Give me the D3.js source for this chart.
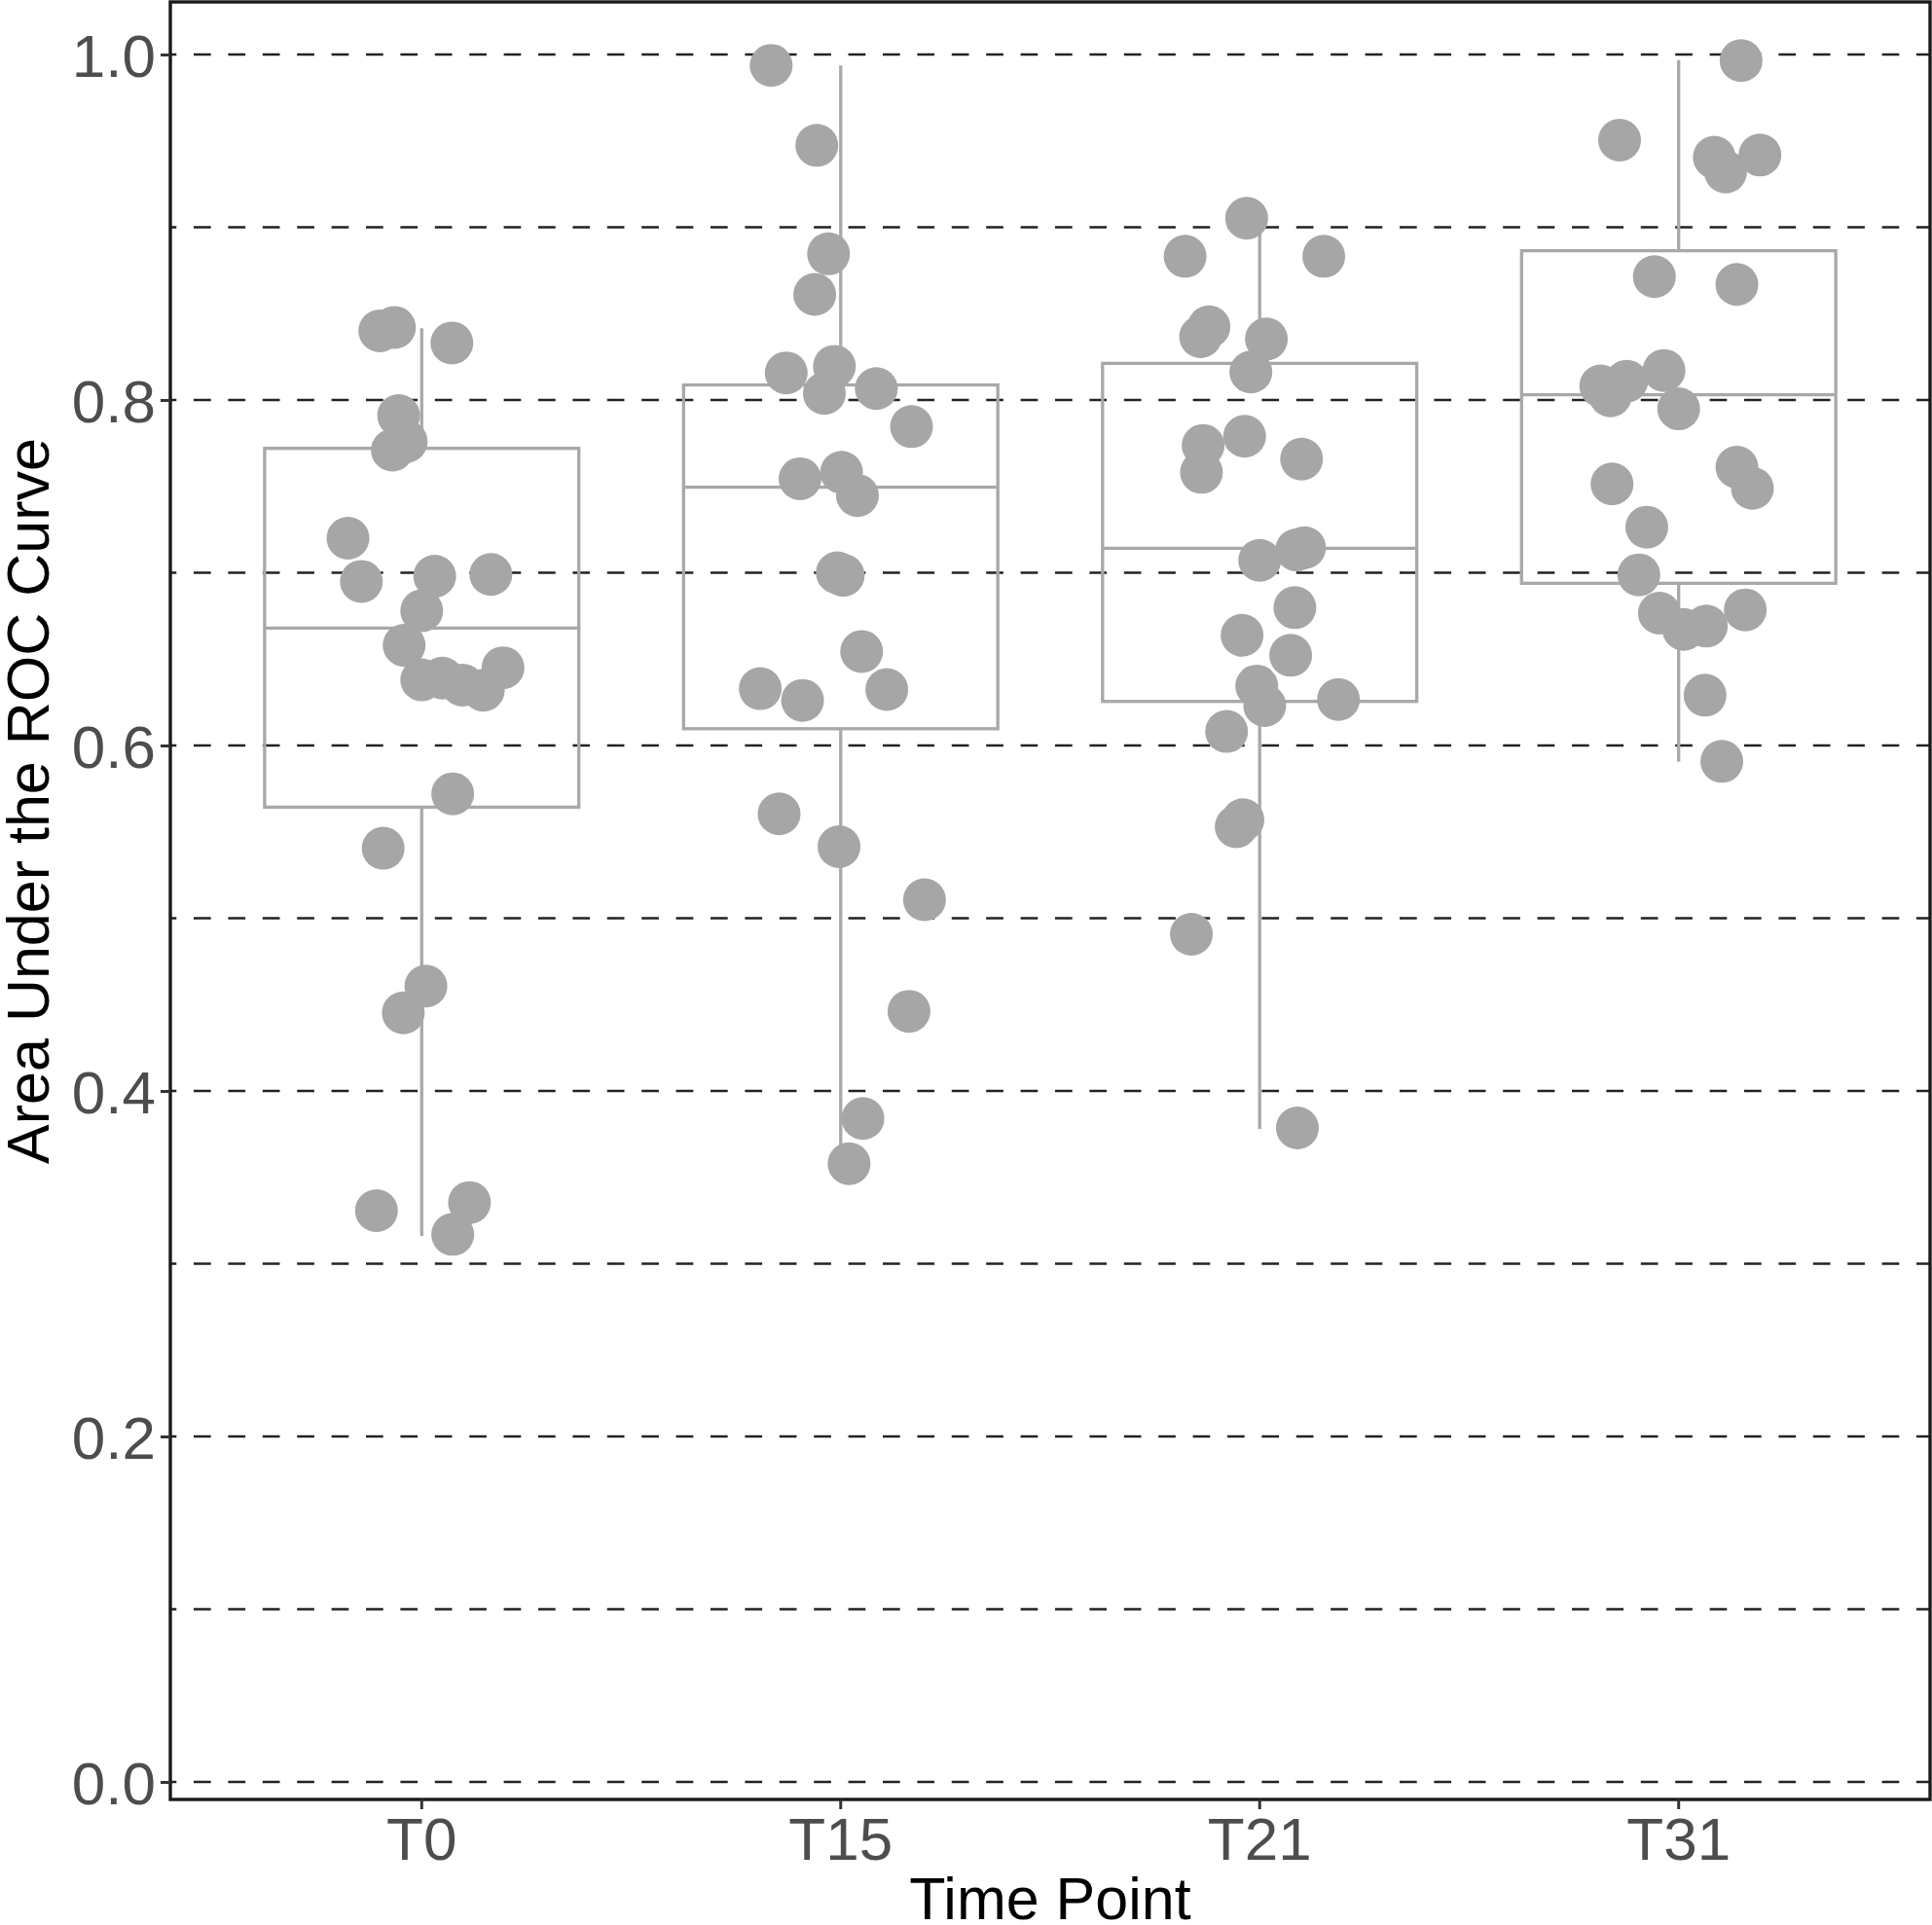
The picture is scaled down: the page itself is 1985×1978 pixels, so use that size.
<!DOCTYPE html>
<html lang="en">
<head>
    <meta charset="UTF-8">
    <title>AUC by time point</title>
    <script src="https://cdn.jsdelivr.net/npm/d3@7"></script>
    <style>
        body { margin: 0; background: #fff; }
        text { font-family: "Liberation Sans", Arial, Helvetica, sans-serif; }
    </style>
</head>
<body>
<svg id="chart" width="1985" height="1978"></svg>
<script>
    // categories
    let timePoints = ['T0', 'T15', 'T21', 'T31'];

    // box statistics: lower whisker, q1, median, q3, upper whisker
    let whiskerLow = [0.316, 0.362, 0.378, 0.5906];
    let q1 = [0.5643, 0.6097, 0.6255, 0.6939];
    let median = [0.668, 0.7495, 0.7142, 0.803];
    let q3 = [0.772, 0.8087, 0.8212, 0.8864];
    let whiskerHigh = [0.8415, 0.9937, 0.905, 0.9968];

    // AUC values per time point, with the jitter (fraction of a category step)
    let aucT0 = [0.840, 0.842, 0.833, 0.791, 0.771, 0.776, 0.720, 0.695, 0.698, 0.699, 0.678, 0.658,
        0.638, 0.639, 0.635, 0.632, 0.645, 0.572, 0.5405, 0.4607, 0.4452, 0.3307, 0.3354, 0.317];
    let jitT0 = [-0.100, -0.065, 0.072, -0.055, -0.070, -0.037, -0.176, -0.144, 0.031, 0.165, 0.000, -0.042,
        0.000, 0.049, 0.097, 0.147, 0.194, 0.074, -0.092, 0.010, -0.044, -0.108, 0.114, 0.074];

    let aucT15 = [0.9937, 0.9474, 0.8846, 0.8611, 0.8157, 0.8195, 0.8038, 0.8066, 0.7846, 0.7544, 0.7581, 0.7447,
        0.7000, 0.6985, 0.6544, 0.6329, 0.6261, 0.6324, 0.5604, 0.5414, 0.5107, 0.4461, 0.3841, 0.3579];
    let jitT15 = [-0.166, -0.057, -0.029, -0.062, -0.130, -0.015, -0.039, 0.085, 0.169, -0.097, 0.002, 0.040,
        -0.008, 0.006, 0.050, -0.192, -0.091, 0.110, -0.147, -0.004, 0.200, 0.163, 0.053, 0.020];

    let aucT21 = [0.9052, 0.8832, 0.8832, 0.8424, 0.8366, 0.8353, 0.8162, 0.7790, 0.7737, 0.7581, 0.7658, 0.7145,
        0.7132, 0.7072, 0.6798, 0.6638, 0.6522, 0.6344, 0.6231, 0.6266, 0.6081, 0.5530, 0.5570, 0.4907, 0.3786];
    let jitT21 = [-0.031, -0.178, 0.153, -0.121, -0.141, 0.016, -0.021, -0.036, -0.135, -0.139, 0.100, 0.107,
        0.088, 0.000, 0.084, -0.042, 0.074, -0.007, 0.012, 0.188, -0.079, -0.056, -0.040, -0.163, 0.090];

    let aucT31 = [0.9965, 0.9504, 0.9405, 0.9320, 0.9418, 0.8714, 0.8669, 0.8081, 0.8109, 0.8024, 0.8171, 0.7949,
        0.7611, 0.7489, 0.7514, 0.7264, 0.6988, 0.6766, 0.6672, 0.6691, 0.6785, 0.6291, 0.5908];
    let jitT31 = [0.149, -0.141, 0.085, 0.112, 0.194, -0.058, 0.139, -0.186, -0.124, -0.163, -0.035, 0.000,
        0.139, 0.176, -0.159, -0.076, -0.095, -0.046, 0.012, 0.066, 0.159, 0.063, 0.103];

    let yTicks = [0, 0.2, 0.4, 0.6, 0.8, 1.0];
    let yGrid = [0, 0.1, 0.2, 0.3, 0.4, 0.5, 0.6, 0.7, 0.8, 0.9, 1.0];

    let aucs = [aucT0, aucT15, aucT21, aucT31],
        jits = [jitT0, jitT15, jitT21, jitT31];

    // panel box in pixels
    let panelL = 175, panelR = 1983, panelT = 2, panelB = 1849;
    let grey = '#a8a8a8';

    let svg = d3.select('#chart');
    svg.append('rect').attr('width', 1985).attr('height', 1978).attr('fill', '#fff');

    let x = d3.scaleBand().domain(timePoints).range([panelL, panelR]).paddingInner(0).paddingOuter(0.1);
    let y = d3.scaleLinear().domain([0, 1]).range([1831, 56]);
    let step = x.step();
    let cx = d => x(d) + x.bandwidth() / 2;

    // dashed grid lines
    svg.append('g').selectAll('line').data(yGrid).enter()
        .append('line')
        .attr('x1', panelL).attr('x2', panelR)
        .attr('y1', d => y(d)).attr('y2', d => y(d))
        .attr('stroke', '#222')
        .attr('stroke-width', 2.6)
        .attr('stroke-dasharray', '17.7,17.7')
        .attr('stroke-dashoffset', 11.4);

    // boxes
    let boxes = timePoints.map((t, i) => ({
        t: t, lo: whiskerLow[i], q1: q1[i], med: median[i], q3: q3[i], hi: whiskerHigh[i]
    }));
    let bw = step * 0.75;
    let gb = svg.append('g').attr('stroke', grey).attr('stroke-width', 3.3).attr('fill', 'none');
    gb.selectAll('.whisker-lo').data(boxes).enter().append('line')
        .attr('class', 'whisker-lo')
        .attr('x1', d => cx(d.t)).attr('x2', d => cx(d.t))
        .attr('y1', d => y(d.q1)).attr('y2', d => y(d.lo));
    gb.selectAll('.whisker-hi').data(boxes).enter().append('line')
        .attr('class', 'whisker-hi')
        .attr('x1', d => cx(d.t)).attr('x2', d => cx(d.t))
        .attr('y1', d => y(d.q3)).attr('y2', d => y(d.hi));
    gb.selectAll('rect').data(boxes).enter().append('rect')
        .attr('x', d => cx(d.t) - bw / 2)
        .attr('width', bw)
        .attr('y', d => y(d.q3))
        .attr('height', d => y(d.q1) - y(d.q3));
    gb.selectAll('.median').data(boxes).enter().append('line')
        .attr('class', 'median')
        .attr('x1', d => cx(d.t) - bw / 2).attr('x2', d => cx(d.t) + bw / 2)
        .attr('y1', d => y(d.med)).attr('y2', d => y(d.med));

    // jittered points
    let pts = [];
    timePoints.forEach((t, i) => {
        aucs[i].forEach((v, j) => pts.push({t: t, v: v, j: jits[i][j]}));
    });
    svg.append('g').selectAll('circle').data(pts).enter()
        .append('circle')
        .attr('cx', d => cx(d.t) + d.j * step)
        .attr('cy', d => y(d.v))
        .attr('r', 22)
        .attr('fill', '#a6a6a6');

    // panel border
    svg.append('rect')
        .attr('x', panelL).attr('y', panelT)
        .attr('width', panelR - panelL).attr('height', panelB - panelT)
        .attr('fill', 'none').attr('stroke', '#1a1a1a').attr('stroke-width', 3.4);

    // axes
    let yAxis = svg.append('g')
        .attr('transform', 'translate(' + panelL + ',0)')
        .call(d3.axisLeft(y).tickValues(yTicks).tickFormat(d3.format('.1f')).tickSize(10).tickPadding(5));
    let xAxis = svg.append('g')
        .attr('transform', 'translate(0,' + panelB + ')')
        .call(d3.axisBottom(x).tickSize(10).tickPadding(8));

    [yAxis, xAxis].forEach(a => {
        a.select('.domain').remove();
        a.selectAll('line').attr('stroke', '#333').attr('stroke-width', 3);
        a.selectAll('text').attr('fill', '#4d4d4d').style('font-size', '62px');
    });
    yAxis.selectAll('text').attr('dy', '0.36em');

    // axis titles (the reference crops them at the edge; kept just inside)
    svg.append('text')
        .attr('x', (panelL + panelR) / 2).attr('y', 1972)
        .attr('text-anchor', 'middle')
        .style('font-size', '61px')
        .attr('fill', '#000')
        .text('Time Point');

    svg.append('text')
        .attr('transform', 'translate(50,823) rotate(-90)')
        .attr('text-anchor', 'middle')
        .style('font-size', '61px')
        .attr('fill', '#000')
        .text('Area Under the ROC Curve');
</script>
</body>
</html>
